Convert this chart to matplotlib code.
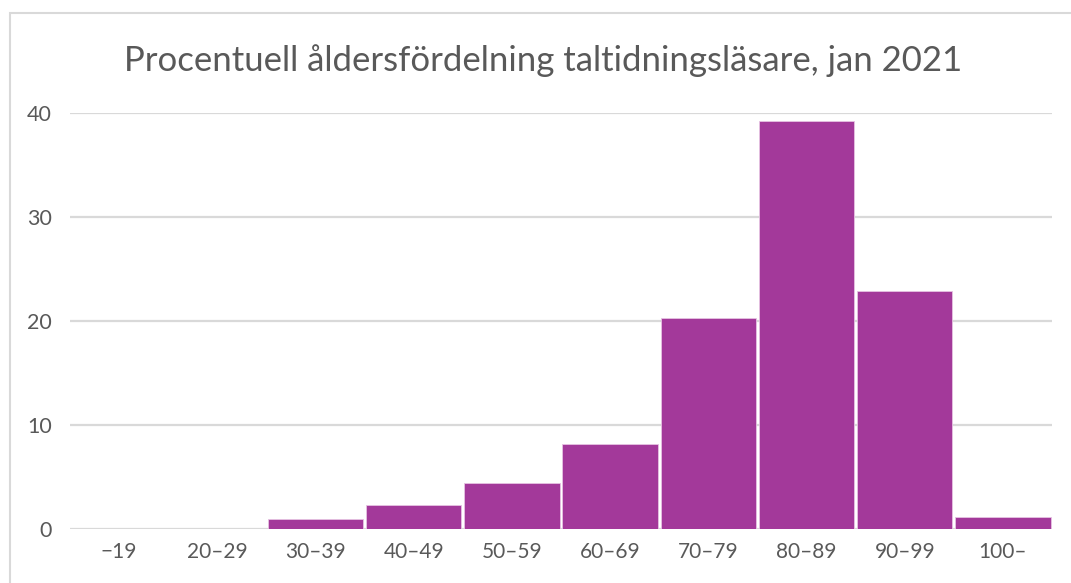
import matplotlib
matplotlib.use("Agg")
import matplotlib.pyplot as plt
from matplotlib.patches import Rectangle

categories = ["\u221219", "20\u201329", "30\u201339", "40\u201349", "50\u201359",
              "60\u201369", "70\u201379", "80\u201389", "90\u201399", "100\u2013"]
values = [0.0, 0.0, 1.0, 2.35, 4.45, 8.2, 20.25, 39.25, 22.85, 1.12]
yticks = [0, 10, 20, 30, 40]
title = "Procentuell åldersfördelning taltidningsläsare, jan 2021"

plt.rcParams['font.family'] = ['Lato', 'DejaVu Sans']

W, H = 1071, 583
fig = plt.figure(figsize=(W / 100, H / 100), dpi=100)
fig.patch.set_facecolor("white")

# chart frame (cropped at right/bottom)
fig.patches.append(Rectangle((10 / W, -0.1), 1.2, 1 - 13 / H + 0.1,
                             transform=fig.transFigure, fill=False,
                             edgecolor="#d9d9d9", linewidth=1.5, zorder=0))

ax = fig.add_axes([70 / W, 1 - 529 / H, (1052 - 70) / W, (529 - 113) / H])
x = list(range(len(categories)))
ax.bar(x, values, width=0.97, color="#A3399A", edgecolor="#E6C3E2",
       linewidth=0.6, zorder=3)
ax.set_xlim(-0.5, len(categories) - 0.5)
ax.set_ylim(0, 40)
ax.set_yticks(yticks)
ax.set_yticklabels([str(t) for t in yticks])
ax.set_xticks(x)
ax.set_xticklabels(categories)
ax.grid(axis="y", color="#d9d9d9", linewidth=1.6, zorder=0)
ax.set_axisbelow(True)
for s in ax.spines.values():
    s.set_visible(False)
ax.tick_params(axis="both", length=0, colors="#595959")
ax.tick_params(axis="y", pad=13, labelsize=15.5)
ax.tick_params(axis="x", pad=9, labelsize=15)

fig.text(0.5 * (127 + 960) / W, 1 - 61 / H, title, ha="center", va="center",
         fontsize=25, color="#595959")

fig.savefig("out.png", dpi=100)
